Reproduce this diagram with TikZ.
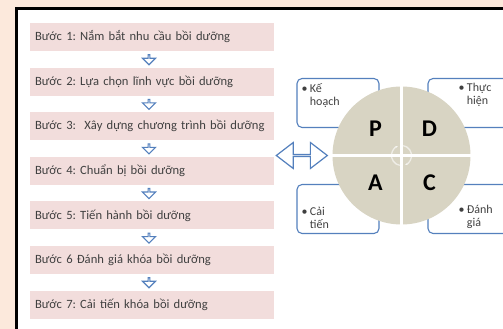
\documentclass[tikz,border=0pt]{standalone}
\usepackage{fontspec}
\setmainfont{Carlito}[WordSpace=0.85]
\usetikzlibrary{positioning,shapes.arrows,calc,arrows.meta}
\definecolor{peach}{RGB}{252,233,220}
\definecolor{steppink}{RGB}{242,221,220}
\definecolor{linkblue}{RGB}{84,128,189}
\definecolor{disctan}{RGB}{216,212,195}
\definecolor{txtgray}{RGB}{64,64,64}
\frenchspacing

\begin{document}
\begin{tikzpicture}[x=1pt, y=-1pt, node distance=16.2pt,
   stepbox/.style={fill=steppink, text width=234pt, inner xsep=5pt, inner ysep=0pt, minimum height=28pt, align=left, text=txtgray, font=\fontsize{12.6}{14}\selectfont},
   downarr/.style={single arrow, draw=linkblue, fill=white, line width=1.1pt, rotate=-90, minimum height=10pt, minimum width=13pt, single arrow head extend=3.5pt, inner sep=0pt},
   linkarr/.style={double arrow, draw=linkblue, fill=white, line width=1.2pt, minimum height=51pt, minimum width=26pt, double arrow head extend=6.5pt, double arrow tip angle=75, inner sep=0pt},
   quad/.style={draw=linkblue, line width=1.1pt, rounded corners=5pt, fill=white, minimum width=82pt, minimum height=49pt},
   quadtext/.style={align=left, inner sep=0pt, text=txtgray, font=\fontsize{12}{13}\selectfont},
   disc/.style={circle, fill=disctan, minimum size=138pt, inner sep=0pt},
   letter/.style={inner sep=0pt, font=\fontsize{24}{24}\selectfont\bfseries},
   cycarr/.style={white, opacity=0.6, line width=1.3pt, -{Stealth[length=3pt]}}]
   \useasboundingbox (0,0) rectangle (503,329);
   \clip (0,0) rectangle (503,329);
   \fill[peach] (0,0) rectangle (503,329);
   \draw[line width=3pt, fill=white] (16.5,8.7) rectangle (530,350);
   % cac buoc
   \node[stepbox] (step1) at (152,37) {Bước 1: Nắm bắt nhu cầu bồi dưỡng};
   \node[stepbox, below=of step1] (step2) {Bước 2: Lựa chọn lĩnh vực bồi dưỡng};
   \node[stepbox, below=of step2] (step3) {Bước 3:\ \ Xây dựng chương trình bồi dưỡng};
   \node[stepbox, below=of step3] (step4) {Bước 4: Chuẩn bị bồi dưỡng};
   \node[stepbox, below=of step4] (step5) {Bước 5: Tiến hành bồi dưỡng};
   \node[stepbox, below=of step5] (step6) {Bước 6 Đánh giá khóa bồi dưỡng};
   \node[stepbox, below=of step6] (step7) {Bước 7: Cải tiến khóa bồi dưỡng};
   \node[downarr] (a12) at ($(step1.south)!0.5!(step2.north)+(-3,0)$) {};
   \node[downarr] (a23) at ($(step2.south)!0.5!(step3.north)+(-3,0)$) {};
   \node[downarr] (a34) at ($(step3.south)!0.5!(step4.north)+(-3,0)$) {};
   \node[downarr] (a45) at ($(step4.south)!0.5!(step5.north)+(-3,0)$) {};
   \node[downarr] (a56) at ($(step5.south)!0.5!(step6.north)+(-3,0)$) {};
   \node[downarr] (a67) at ($(step6.south)!0.5!(step7.north)+(-3,0)$) {};
   % chu trinh PDCA
   \node[quad] (plan) at (338,103) {};
   \node[quad] (doit) at (469,103) {};
   \node[quad] (act) at (338,209) {};
   \node[quad] (check) at (469,209) {};
   \node[quadtext, anchor=north west] (planT) at ([shift={(5,5)}]plan.north west) {\textbullet\ Kế\\\phantom{\textbullet\ }hoạch};
   \node[quadtext, anchor=north west] (doitT) at ([shift={(31,5)}]doit.north west) {\textbullet\ Thực\\\phantom{\textbullet\ }hiện};
   \node[quadtext, anchor=south west] (actT) at ([shift={(5,-5)}]act.south west) {\textbullet\ Cải\\\phantom{\textbullet\ }tiến};
   \node[quadtext, anchor=south west] (checkT) at ([shift={(31,-5)}]check.south west) {\textbullet\ Đánh\\\phantom{\textbullet\ }giá};
   \node[disc] (pdca) at (401.5,155.5) {};
   \draw[white, line width=3pt] (pdca.north) -- (pdca.south);
   \draw[white, line width=3pt] (pdca.west) -- (pdca.east);
   \draw[cycarr] ([shift={(100:10)}]pdca.center) arc[start angle=100, end angle=250, radius=10];
   \draw[cycarr] ([shift={(280:10)}]pdca.center) arc[start angle=280, end angle=430, radius=10];
   \node[letter] (P) at ([shift={(-26,-27)}]pdca.center) {P};
   \node[letter] (D) at ([shift={(28,-27)}]pdca.center) {D};
   \node[letter] (A) at ([shift={(-26,27)}]pdca.center) {A};
   \node[letter] (C) at ([shift={(28,27)}]pdca.center) {C};
   \node[linkarr, left=4pt of pdca] (link) {};
\end{tikzpicture}
\end{document}
